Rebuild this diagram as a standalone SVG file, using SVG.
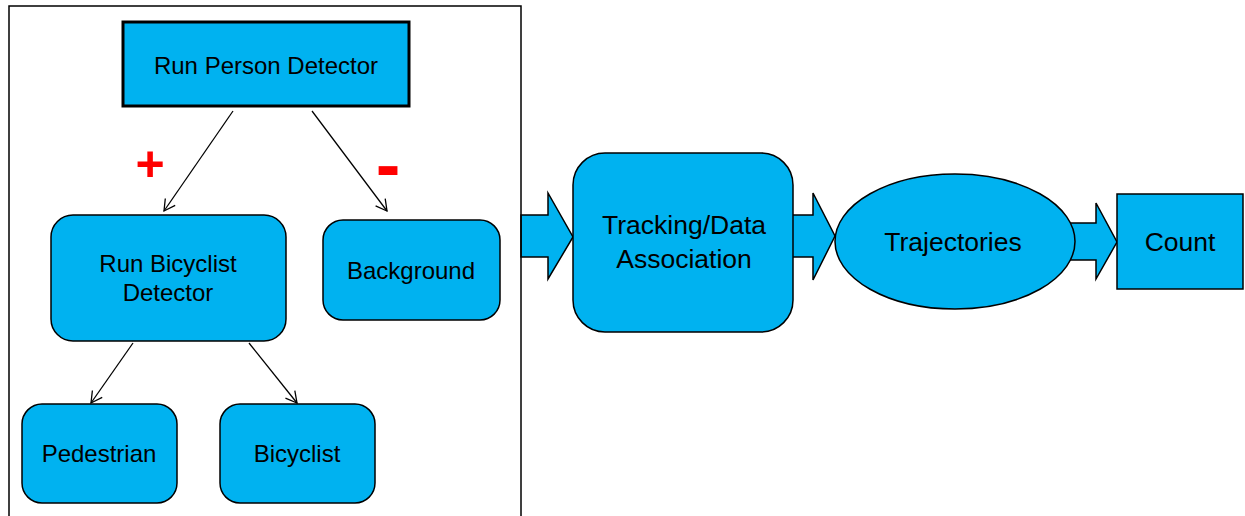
<svg xmlns="http://www.w3.org/2000/svg" width="1245" height="516" viewBox="0 0 1245 516">
<style>
.n{fill:#00B2F0;stroke:#000;stroke-width:1.5}
.t{font-family:"Liberation Sans",Arial,sans-serif;font-size:24px;fill:#000;text-anchor:middle}
.tl{font-family:"Liberation Sans",Arial,sans-serif;font-size:26.5px;fill:#000;text-anchor:middle}
.c{stroke:#000;stroke-width:1.3;fill:none;marker-end:url(#ah)}
.blk{fill:#00B2F0;stroke:#000;stroke-width:1.5;stroke-linejoin:miter}
.sg{font-family:"Liberation Sans",Arial,sans-serif;font-weight:bold;fill:#FF0000;text-anchor:middle}
</style>
<defs>
<marker id="ah" markerUnits="userSpaceOnUse" markerWidth="14" markerHeight="14" refX="12" refY="7" orient="auto" overflow="visible">
<path d="M1,1 L12,7 L1,13" fill="none" stroke="#000" stroke-width="1.3"/>
</marker>
</defs>
<rect width="1245" height="516" fill="#fff"/>
<g id="connectors">
<line class="c" x1="233" y1="111" x2="164" y2="211"/>
<line class="c" x1="312" y1="111" x2="387" y2="211"/>
<line class="c" x1="133" y1="343" x2="91" y2="403"/>
<line class="c" x1="249" y1="343" x2="297" y2="403"/>
<polygon class="blk" points="521,215 548,215 548,193 573,237 548,279 548,257 521,257"/>
<polygon class="blk" points="788,215 813,215 813,193 835,236 813,280 813,257 788,257"/>
<polygon class="blk" points="1068,223 1096,223 1096,203 1117,242 1096,279 1096,260 1068,260"/>
</g>
<rect id="frame" x="9" y="6" width="512" height="530" fill="none" stroke="#000" stroke-width="1.5"/>
<g id="run-person-detector">
<rect x="123" y="22" width="286" height="84" fill="#00B2F0" stroke="#000" stroke-width="3"/>
<text class="t" x="266" y="74">Run Person Detector</text>
</g>
<text class="sg" x="150" y="181" font-size="50">+</text>
<text class="sg" x="388" y="190" font-size="74">-</text>
<g id="run-bicyclist-detector">
<rect class="n" x="51" y="215" width="235" height="126" rx="22"/>
<text class="t" x="168" y="272">Run Bicyclist</text>
<text class="t" x="168" y="301">Detector</text>
</g>
<g id="background">
<rect class="n" x="323" y="220" width="177" height="100" rx="20"/>
<text class="t" x="411" y="279">Background</text>
</g>
<g id="pedestrian">
<rect class="n" x="22" y="404" width="155" height="99" rx="20"/>
<text class="t" x="99" y="462">Pedestrian</text>
</g>
<g id="bicyclist">
<rect class="n" x="220" y="404" width="155" height="99" rx="20"/>
<text class="t" x="297" y="462">Bicyclist</text>
</g>
<g id="tracking">
<rect class="n" x="573" y="153" width="220" height="179" rx="32"/>
<text class="tl" x="684" y="234">Tracking/Data</text>
<text class="tl" x="684" y="268">Association</text>
</g>
<g id="trajectories">
<ellipse class="n" cx="955" cy="241.5" rx="120" ry="67.5"/>
<text class="tl" x="953" y="251">Trajectories</text>
</g>
<g id="count">
<rect class="n" x="1117" y="194" width="126" height="95"/>
<text class="tl" x="1180" y="251">Count</text>
</g>
</svg>
